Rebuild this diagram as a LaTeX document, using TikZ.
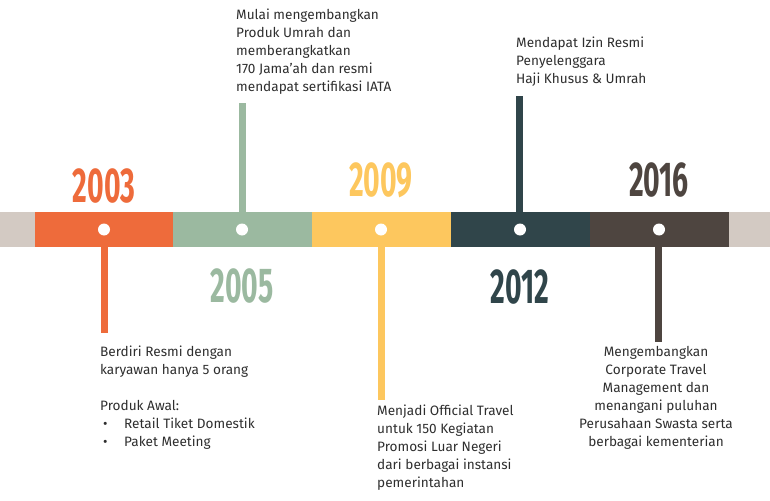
\documentclass[tikz,border=0pt]{standalone}
\usepackage{fontspec}
\setmainfont{Fira Sans}
\newfontfamily\yearfont[FakeStretch=0.58]{Fira Sans}
\definecolor{corange}{HTML}{EE6B3B}
\definecolor{cgreen}{HTML}{9BB9A0}
\definecolor{cyellow}{HTML}{FDC75E}
\definecolor{cteal}{HTML}{30454A}
\definecolor{cbrown}{HTML}{4E4540}
\definecolor{cgray}{HTML}{D3CAC3}
\definecolor{ctext}{HTML}{2E2E2E}
\begin{document}
\begin{tikzpicture}[x=1pt,y=-1pt,
  seg/.style={rectangle,minimum width=139pt,minimum height=35pt,inner sep=0pt,outer sep=0pt},
  dot/.style={circle,fill=white,minimum size=12pt,inner sep=0pt},
  stem/.style={line width=7pt},
  year/.style={font=\yearfont\bfseries\fontsize{49}{49}\selectfont,inner sep=0pt},
  desc/.style={font=\fontsize{13.6}{18}\selectfont,text=ctext,inner sep=0pt}]
\useasboundingbox (0,0) rectangle (770,500);
\fill[cgray] (0,212) rectangle (770,247);
\node[seg,fill=corange] (s1) at (104,229.5) {};
\node[seg,fill=cgreen] (s2) at (242.5,229.5) {};
\node[seg,fill=cyellow] (s3) at (381.5,229.5) {};
\node[seg,fill=cteal] (s4) at (520.5,229.5) {};
\node[seg,fill=cbrown] (s5) at (659,229.5) {};
\node[dot] (d1) at (104,229.5) {};
\node[dot] (d2) at (242,229.5) {};
\node[dot] (d3) at (381,229.5) {};
\node[dot] (d4) at (520,229.5) {};
\node[dot] (d5) at (659,229.5) {};
\coordinate (e1) at (104,333);
\coordinate (e2) at (242,103);
\coordinate (e3) at (381,400);
\coordinate (e4) at (519,96);
\coordinate (e5) at (658,342);
\draw[stem,corange] (e1 |- s1.south) -- (e1);
\draw[stem,cgreen] (e2 |- s2.north) -- (e2);
\draw[stem,cyellow] (e3 |- s3.south) -- (e3);
\draw[stem,cteal] (e4 |- s4.north) -- (e4);
\draw[stem,cbrown] (e5 |- s5.south) -- (e5);
\node[year,text=corange] (y1) at (104,186) {2003};
\node[year,text=cgreen] (y2) at (242,286) {2005};
\node[year,text=cyellow] (y3) at (381,180) {2009};
\node[year,text=cteal] (y4) at (520,287) {2012};
\node[year,text=cbrown] (y5) at (659,180) {2016};
\node[desc,anchor=north west,align=left] (t1) at (100,346) {Berdiri Resmi dengan\\karyawan hanya 5 orang\\[18pt]Produk Awal:\\\hspace*{3pt}\makebox[21pt][l]{\textbullet}Retail Tiket Domestik\\\hspace*{3pt}\makebox[21pt][l]{\textbullet}Paket Meeting};
\node[desc,anchor=north west,align=left] (t2) at (236,9) {Mulai mengembangkan\\Produk Umrah dan\\memberangkatkan\\170 Jama’ah dan resmi\\mendapat sertifikasi IATA};
\node[desc,anchor=north west,align=left] (t3) at (377,405) {Menjadi Official Travel\\untuk 150 Kegiatan\\Promosi Luar Negeri\\dari berbagai instansi\\pemerintahan};
\node[desc,anchor=north west,align=left] (t4) at (516,37) {Mendapat Izin Resmi\\Penyelenggara\\Haji Khusus \& Umrah};
\node[desc,anchor=north,align=center] (t5) at (656,346) {Mengembangkan\\Corporate Travel\\Management dan\\menangani puluhan\\Perusahaan Swasta serta\\berbagai kementerian};
\end{tikzpicture}
\end{document}
